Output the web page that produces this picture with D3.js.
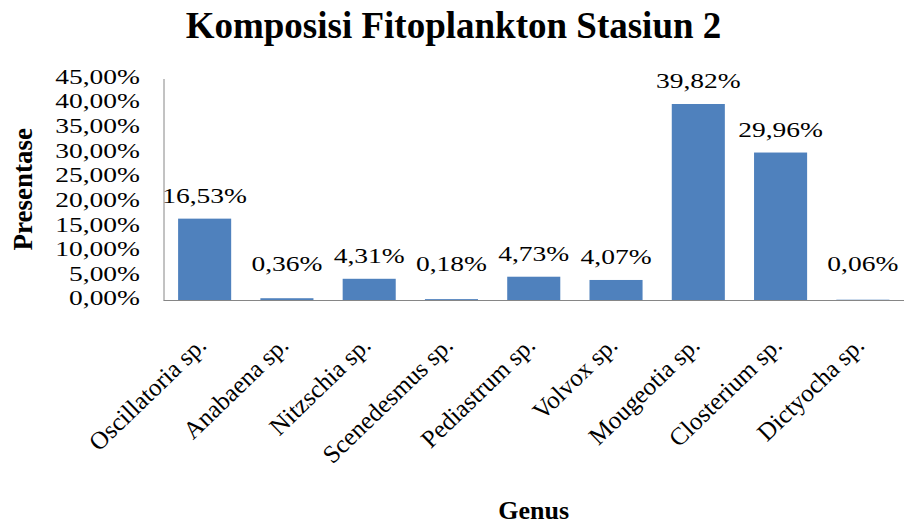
<!DOCTYPE html>
<html>
<head>
<meta charset="utf-8">
<script src="https://cdn.jsdelivr.net/npm/d3@7"></script>
<style>
  body { margin: 0; background: #fff; }
  svg text { font-family: "Liberation Serif", "Times New Roman", serif; fill: #000; }
</style>
</head>
<body>
<div id="chart"></div>
<script>
// Data
var genus = ["Oscillatoria sp.", "Anabaena sp.", "Nitzschia sp.", "Scenedesmus sp.",
             "Pediastrum sp.", "Volvox sp.", "Mougeotia sp.", "Closterium sp.", "Dictyocha sp."];
var persen = [16.53, 0.36, 4.31, 0.18, 4.73, 4.07, 39.82, 29.96, 0.06];
var yTicks = [0, 5, 10, 15, 20, 25, 30, 35, 40, 45];

var W = 904, H = 525;
var plot = { left: 163.5, right: 904, top: 78.5, bottom: 300 };

var svg = d3.select("#chart").append("svg")
    .attr("width", W)
    .attr("height", H);

// format angka pakai koma
function fmt(v) { return v.toFixed(2).replace(".", ",") + "%"; }

var x = d3.scaleBand()
    .domain(genus)
    .range([plot.left, plot.right])
    .paddingInner(0.355)
    .paddingOuter(0.1775);

var y = d3.scaleLinear()
    .domain([0, 45])
    .range([plot.bottom, plot.top]);

// Judul
svg.append("text")
    .attr("x", 453.5)
    .attr("y", 37.5)
    .attr("text-anchor", "middle")
    .style("font-size", "37px")
    .style("font-weight", "bold")
    .text("Komposisi Fitoplankton Stasiun 2");

// Sumbu y
var yAxis = svg.append("g")
    .attr("transform", "translate(" + plot.left + ",0)")
    .call(d3.axisLeft(y).tickValues(yTicks).tickSize(0).tickFormat(fmt));
yAxis.select(".domain").attr("stroke", "#868686");
yAxis.selectAll("text")
    .attr("x", -23.5 / 1.25)
    .attr("dy", "0.22em")
    .attr("transform", "scale(1.25,1)")
    .style("font-size", "22px")
    .style("font-family", "'Liberation Serif', serif");

// Batang
svg.selectAll("rect.bar")
    .data(persen)
    .enter().append("rect")
    .attr("class", "bar")
    .attr("x", function(d, i) { return x(genus[i]); })
    .attr("y", function(d) { return y(d); })
    .attr("width", x.bandwidth())
    .attr("height", function(d) { return y(0) - y(d); })
    .attr("fill", "#4F81BD");

// Sumbu x (garis dasar)
svg.append("line")
    .attr("x1", plot.left).attr("x2", plot.right)
    .attr("y1", y(0) + 0.5).attr("y2", y(0) + 0.5)
    .attr("stroke", "#868686");

// Label nilai
svg.selectAll("text.val")
    .data(persen)
    .enter().append("text")
    .attr("class", "val")
    .attr("text-anchor", "middle")
    .attr("transform", function(d, i) {
        var cx = x(genus[i]) + x.bandwidth() / 2;
        var by = Math.min(y(d), y(0) - 13) - 16;
        return "translate(" + cx + "," + by + ") scale(1.25,1)";
    })
    .style("font-size", "22px")
    .text(fmt);

// Label kategori miring
svg.selectAll("text.cat")
    .data(genus)
    .enter().append("text")
    .attr("class", "cat")
    .attr("text-anchor", "end")
    .attr("transform", function(d) {
        var cx = x(d) + x.bandwidth() / 2 + 3;
        return "translate(" + cx + ",347) rotate(-44)";
    })
    .style("font-size", "25px")
    .text(function(d) { return d; });

// Judul sumbu
svg.append("text")
    .attr("text-anchor", "middle")
    .attr("transform", "translate(32," + ((plot.top + plot.bottom) / 2) + ") rotate(-90)")
    .style("font-size", "27px")
    .style("font-weight", "bold")
    .text("Presentase");

svg.append("text")
    .attr("x", (plot.left + plot.right) / 2)
    .attr("y", 519)
    .attr("text-anchor", "middle")
    .style("font-size", "26px")
    .style("font-weight", "bold")
    .text("Genus");
</script>
</body>
</html>
